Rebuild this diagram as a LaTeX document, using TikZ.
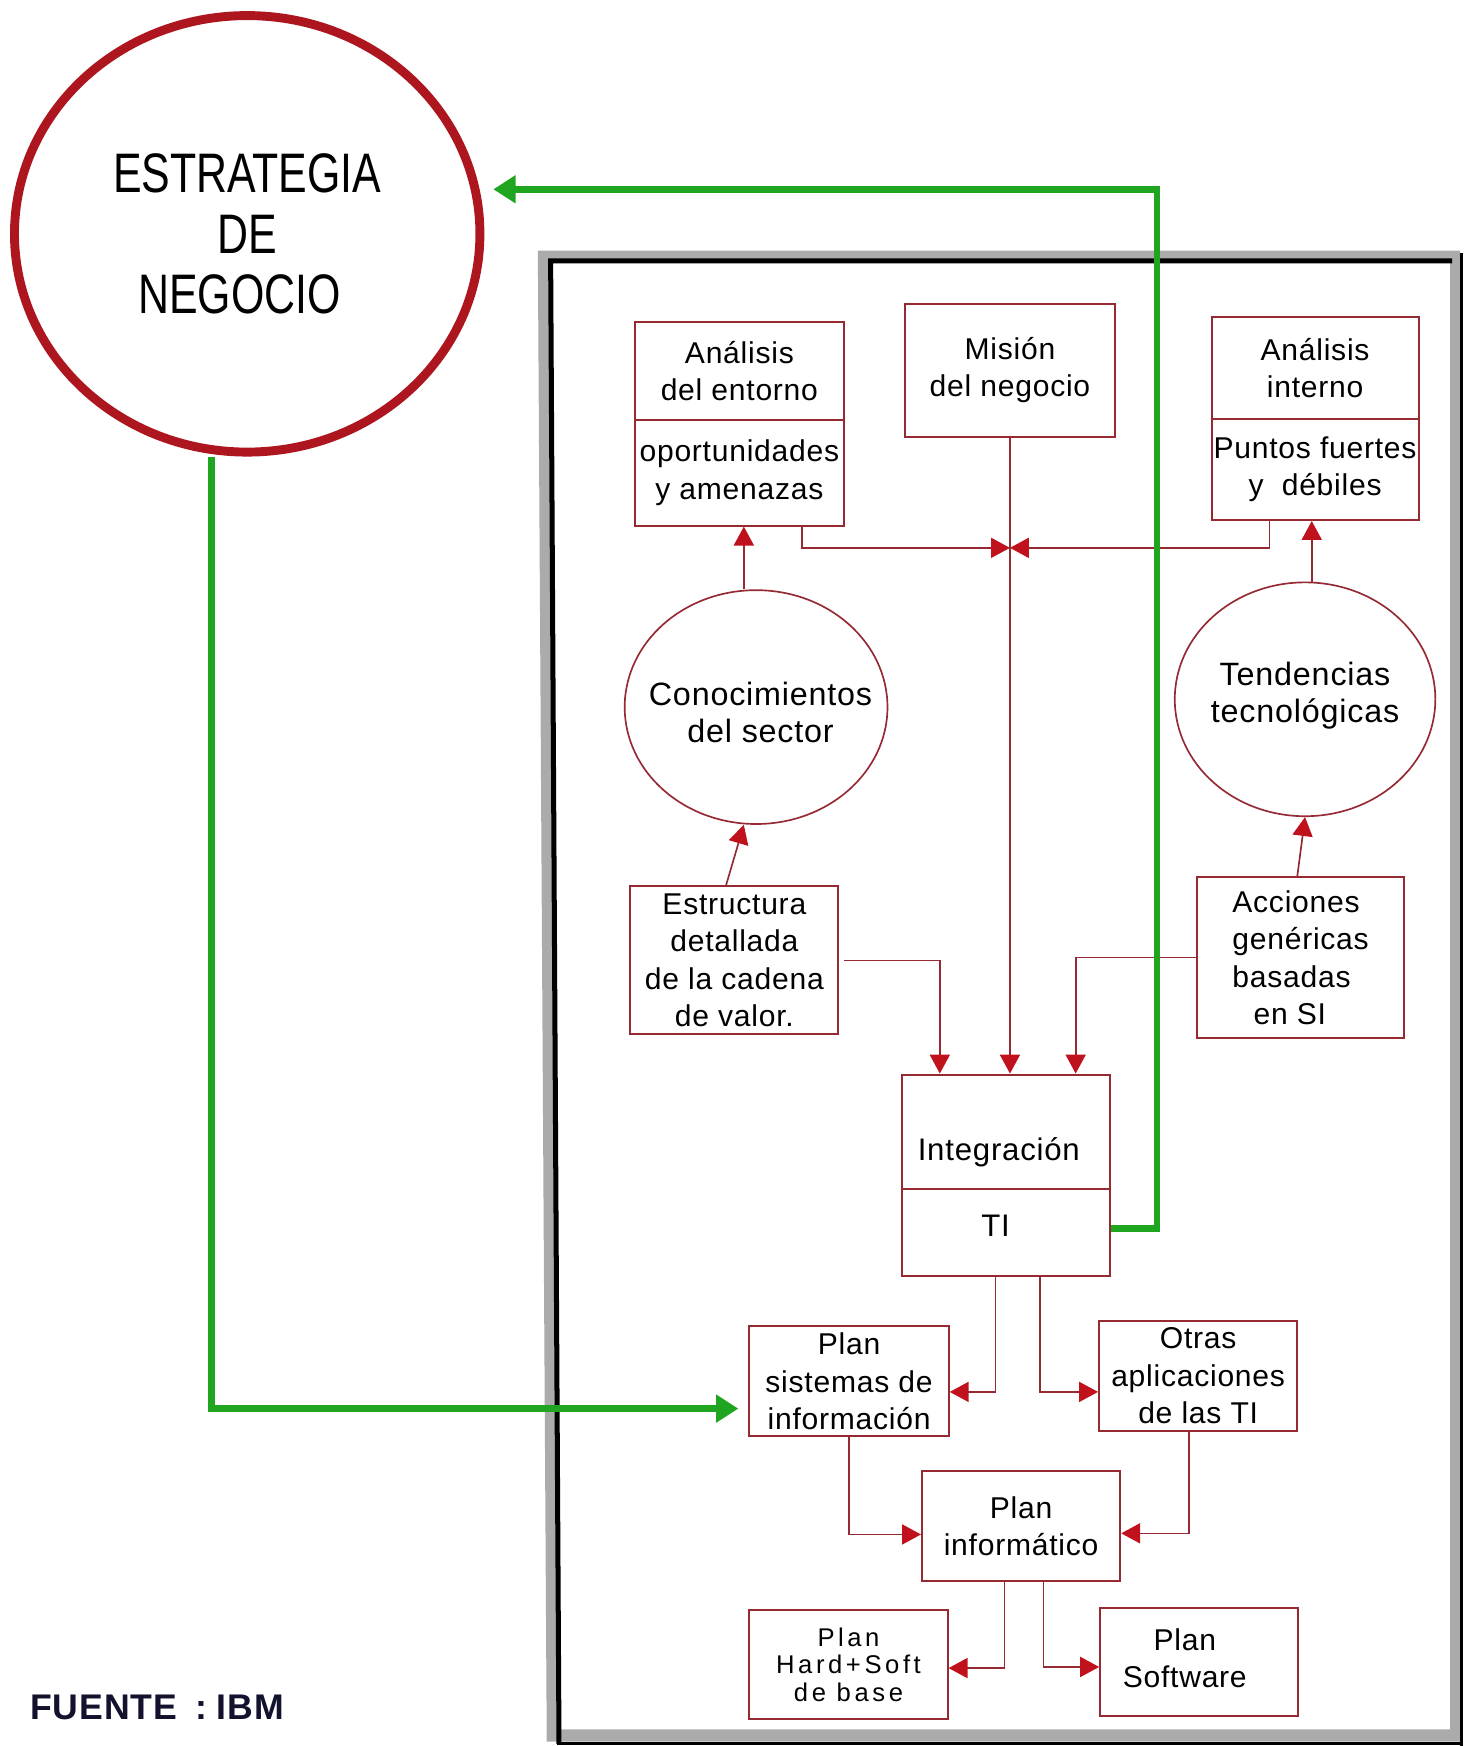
\documentclass[tikz,border=0pt]{standalone}
\usepackage{fontspec}
\setmainfont{Liberation Sans}[LetterSpace=2.5]
\newfontfamily\stratfont{Liberation Sans}[FakeStretch=0.77]
\newfontfamily\spacedfont{Liberation Sans}[LetterSpace=14]
\usetikzlibrary{arrows.meta,shapes.geometric}

\definecolor{boxred}{HTML}{962A33}
\definecolor{tipred}{HTML}{C0121C}
\definecolor{bigred}{HTML}{AD161E}
\definecolor{flowgreen}{HTML}{1FA51F}
\definecolor{framegray}{HTML}{ABABAB}
\definecolor{navy}{HTML}{12122E}

\begin{document}
\begin{tikzpicture}[x=1pt,y=-1pt,
  box/.style={draw=boxred, line width=1.8pt, rectangle, inner sep=0pt, align=center,
    font=\fontsize{27}{33.5}\selectfont},
  oval/.style={draw=boxred, line width=1.5pt, ellipse, inner sep=0pt},
  boxtext/.style={inner sep=0pt, align=center, font=\fontsize{28}{33.5}\selectfont},
  ovaltext/.style={inner sep=0pt, align=center, font=\fontsize{29}{33.5}\selectfont},
  conn/.style={draw=boxred, line width=1.5pt, -{Triangle[length=17pt,width=18pt,color=tipred]}},
  flow/.style={draw=flowgreen, line width=6pt, -{Triangle[length=20pt,width=24pt]}},
]
\useasboundingbox (0,0) rectangle (1320,1568);

% outer frame of the planning block: grey halftone band with dark edges
\fill[framegray] (483,225) -- (1311,225) -- (1311,1564) -- (491,1564) -- cycle;
\fill[white] (494,236) -- (1302,236) -- (1302,1553) -- (502,1553) -- cycle;
\draw[black, line width=4.5pt] (502,1566) -- (494.5,234.25) -- (1304,234.25);
\draw[black, line width=3pt] (1312.5,227) -- (1312.5,1568);
\draw[black, line width=3pt] (500,1566) -- (1314,1566);

% business strategy
\node[draw=bigred, line width=8pt, ellipse, minimum width=418pt, minimum height=392pt,
      inner sep=0pt, align=center, font=\stratfont\fontsize{50}{54.5}\selectfont]
      (strat) at (222,210) {ESTRATEGIA\\DE\hspace*{24pt}\\NEGOCIO\hspace*{14pt}};

% analysis boxes
\node[box, minimum width=188pt, minimum height=88pt] (entTop) at (664,333) {Análisis\\del entorno};
\node[box, minimum width=188pt, minimum height=95pt] (entBot) at (664,424.5) {oportunidades\\y amenazas};
\node[box, minimum width=188pt, minimum height=119pt] (mision) at (907,332.5) {Misión\\del negocio};
\node[box, minimum width=186pt, minimum height=91pt] (intTop) at (1181,330.5) {Análisis\\interno};
\node[box, minimum width=186pt, minimum height=91pt] (intBot) at (1181,421.5) {Puntos fuertes\\y~~débiles};

% knowledge ovals
\node[oval, minimum width=236pt, minimum height=210pt] (cono) at (679,635) {};
\node[ovaltext] (conotext) at (683,640) {Conocimientos\\del sector};
\node[oval, minimum width=234pt, minimum height=210pt] (tend) at (1172,628) {};
\node[ovaltext] (tendtext) at (1172,624.5) {Tendencias\\tecnológicas};

\node[box, minimum width=187pt, minimum height=133pt] (estr) at (659.5,862.5)
  {Estructura\\detallada\\de la cadena\\de valor.};
\node[box, minimum width=186pt, minimum height=144pt, align=left] (acc) at (1168,860)
  {Acciones\\genéricas\\basadas\\\hspace*{19pt}en SI};

% integration
\node[box, minimum width=187pt, minimum height=103pt] (integ) at (903.5,1016.5) {};
\node[box, minimum width=187pt, minimum height=78pt] (ti) at (903.5,1107) {};
\node[boxtext] (integtext) at (897,1035) {Integración};
\node[boxtext] (titext) at (894,1101) {TI};

% plans
\node[box, minimum width=179pt, minimum height=99pt] (psi) at (762.5,1240.5)
  {Plan\\sistemas de\\información};
\node[box, minimum width=178pt, minimum height=99pt] (otras) at (1076,1235.5)
  {Otras\\aplicaciones\\de las TI};
\node[box, minimum width=178pt, minimum height=99pt] (pinf) at (917,1370.5)
  {Plan\\informático};
\node[box, minimum width=178pt, minimum height=98pt, font=\spacedfont\fontsize{23}{25}\selectfont]
  (phs) at (762,1495) {Plan\\Hard+Soft\\de base};
\node[box, minimum width=178pt, minimum height=97pt] (psw) at (1077,1492.5) {};
\node[boxtext, font=\fontsize{27}{33.5}\selectfont] (pswtext) at (1064,1489) {Plan\\Software};

% connectors
\coordinate (mj) at (907,492);
\draw[conn] ([xshift=56pt]entBot.south) |- (mj);
\draw[conn] ([xshift=-41pt]intBot.south) |- (mj);
\draw[conn] (mision.south) -- (mision.south |- integ.north);

\coordinate (conoTop) at ([xshift=-11pt]cono.north);
\draw[conn] (conoTop) -- (conoTop |- entBot.south);
\coordinate (tendTop) at ([xshift=6pt]tend.north);
\draw[conn] (tendTop) -- (tendTop |- intBot.south);

\draw[conn] ([xshift=-7.5pt]estr.north) -- ([xshift=-11pt]cono.south);
\draw[conn] ([xshift=-3pt]acc.north) -- (tend.south);

\coordinate (inA) at ([xshift=-59.5pt]integ.north);
\coordinate (inC) at ([xshift=62.5pt]integ.north);
\draw[conn] ([xshift=4pt]estr.east) -| (inA);
\draw[conn] (acc.west) -| (inC);

\draw[conn] ([xshift=-9.5pt]ti.south) |- ([yshift=-9.5pt]psi.east);
\draw[conn] ([xshift=30.5pt]ti.south) |- ([yshift=-14.5pt]otras.west);
\draw[conn] (psi.south) |- ([yshift=-7.5pt]pinf.west);
\draw[conn] ([xshift=-8pt]otras.south) |- ([yshift=-6.5pt]pinf.east);
\draw[conn] ([xshift=-15pt]pinf.south) |- ([yshift=-3pt]phs.east);
\draw[conn] ([xshift=20pt]pinf.south) |- ([yshift=-4.5pt]psw.west);

% feedback to and from the business strategy
\coordinate (gtip) at (443,170);
\draw[flow] ([yshift=4pt]ti.east) -- ++(41,0) |- (gtip);
\draw[flow, shorten >=9pt] ([xshift=-32pt]strat.south) |- ([yshift=-24.5pt]psi.west);

% source
\node[anchor=west, inner sep=0pt, text=navy, font=\bfseries\fontsize{32}{36}\selectfont]
  (fuente) at (27,1533) {FUENTE\hspace{16pt}:\hspace{9pt}IBM};
\end{tikzpicture}
\end{document}
